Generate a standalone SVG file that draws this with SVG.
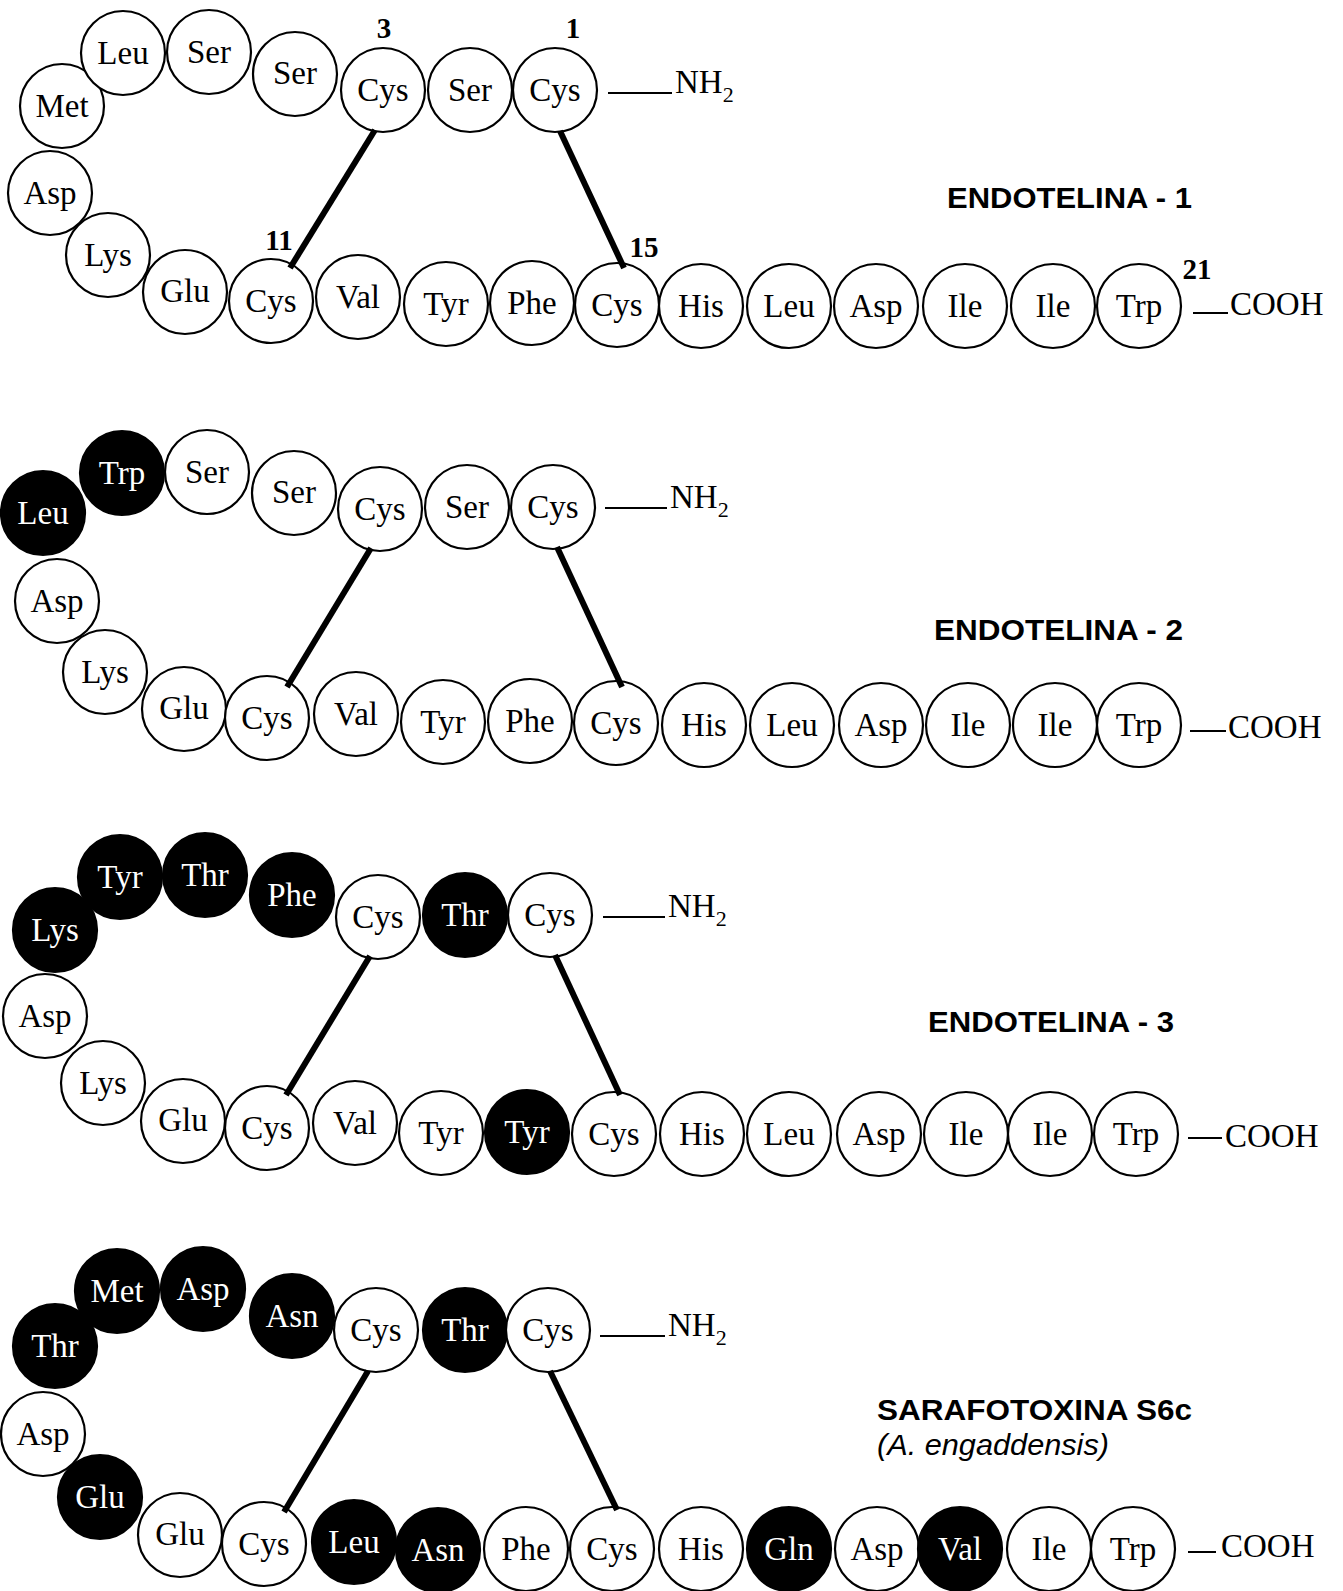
<svg xmlns="http://www.w3.org/2000/svg" width="1343" height="1591" viewBox="0 0 1343 1591">
<style>
.w circle{fill:#fff;stroke:#000;stroke-width:2.2}
.b circle{fill:#000;stroke:#000;stroke-width:2.2}
.w text,.b text{font-family:"Liberation Serif","Times New Roman",serif;font-size:33px;text-anchor:middle}
.w text{fill:#000}
.b text{fill:#fff}
.t{font-family:"Liberation Serif","Times New Roman",serif;font-size:33px;fill:#000}
.n{font-family:"Liberation Serif","Times New Roman",serif;font-size:29px;font-weight:bold;text-anchor:middle;fill:#000}
.h{font-family:"Liberation Sans",Arial,sans-serif;font-size:29px;font-weight:bold;fill:#000}
.hi{font-family:"Liberation Sans",Arial,sans-serif;font-size:30px;font-style:italic;fill:#000}
.ss{stroke:#000;stroke-width:6;stroke-linecap:butt}
.tl{stroke:#000;stroke-width:2}
</style>

<!-- ===== Panel 1: ENDOTELINA - 1 ===== -->
<g id="et1">
<g id="et1-met" class="w"><circle cx="62" cy="106" r="42"/><text x="62" y="117">Met</text></g>
<g id="et1-leu" class="w"><circle cx="123" cy="53" r="42"/><text x="123" y="64">Leu</text></g>
<g id="et1-ser1" class="w"><circle cx="209" cy="52" r="42"/><text x="209" y="63">Ser</text></g>
<g id="et1-ser2" class="w"><circle cx="295" cy="74" r="42"/><text x="295" y="84">Ser</text></g>
<g id="et1-cys3" class="w"><circle cx="383" cy="90" r="42"/><text x="383" y="101">Cys</text></g>
<g id="et1-ser3" class="w"><circle cx="470" cy="90" r="42"/><text x="470" y="101">Ser</text></g>
<g id="et1-cys1" class="w"><circle cx="555" cy="90" r="42"/><text x="555" y="101">Cys</text></g>
<g id="et1-asp" class="w"><circle cx="50" cy="193" r="42"/><text x="50" y="204">Asp</text></g>
<g id="et1-lys" class="w"><circle cx="108" cy="255" r="42"/><text x="108" y="266">Lys</text></g>
<g id="et1-glu" class="w"><circle cx="185" cy="292" r="42"/><text x="185" y="302">Glu</text></g>
<g id="et1-cys11" class="w"><circle cx="271" cy="301" r="42"/><text x="271" y="312">Cys</text></g>
<g id="et1-val" class="w"><circle cx="358" cy="297" r="42"/><text x="358" y="308">Val</text></g>
<g id="et1-tyr" class="w"><circle cx="446" cy="304" r="42"/><text x="446" y="315">Tyr</text></g>
<g id="et1-phe" class="w"><circle cx="532" cy="303" r="42"/><text x="532" y="314">Phe</text></g>
<g id="et1-cys15" class="w"><circle cx="617" cy="305" r="42"/><text x="617" y="316">Cys</text></g>
<g id="et1-his" class="w"><circle cx="701" cy="306" r="42"/><text x="701" y="317">His</text></g>
<g id="et1-leu2" class="w"><circle cx="789" cy="306" r="42"/><text x="789" y="317">Leu</text></g>
<g id="et1-asp2" class="w"><circle cx="876" cy="306" r="42"/><text x="876" y="317">Asp</text></g>
<g id="et1-ile1" class="w"><circle cx="965" cy="306" r="42"/><text x="965" y="317">Ile</text></g>
<g id="et1-ile2" class="w"><circle cx="1053" cy="306" r="42"/><text x="1053" y="317">Ile</text></g>
<g id="et1-trp" class="w"><circle cx="1139" cy="306" r="42"/><text x="1139" y="317">Trp</text></g>
<text class="n" x="384" y="38">3</text>
<text class="n" x="573" y="38">1</text>
<text class="n" x="279" y="250">11</text>
<text class="n" x="644" y="257">15</text>
<text class="n" x="1197" y="279">21</text>
<text class="t" x="675" y="93">NH<tspan dy="9" font-size="22">2</tspan></text>
<text class="t" x="1230" y="315">COOH</text>
<text class="h" x="947" y="208" textLength="245" lengthAdjust="spacingAndGlyphs">ENDOTELINA - 1</text>
</g>

<!-- ===== Panel 2: ENDOTELINA - 2 ===== -->
<g id="et2">
<g id="et2-leu" class="b"><circle cx="43" cy="513" r="42"/><text x="43" y="524">Leu</text></g>
<g id="et2-trp" class="b"><circle cx="122" cy="473" r="42"/><text x="122" y="484">Trp</text></g>
<g id="et2-ser1" class="w"><circle cx="207" cy="472" r="42"/><text x="207" y="483">Ser</text></g>
<g id="et2-ser2" class="w"><circle cx="294" cy="493" r="42"/><text x="294" y="503">Ser</text></g>
<g id="et2-cys3" class="w"><circle cx="380" cy="509" r="42"/><text x="380" y="520">Cys</text></g>
<g id="et2-ser3" class="w"><circle cx="467" cy="507" r="42"/><text x="467" y="518">Ser</text></g>
<g id="et2-cys1" class="w"><circle cx="553" cy="507" r="42"/><text x="553" y="518">Cys</text></g>
<g id="et2-asp" class="w"><circle cx="57" cy="601" r="42"/><text x="57" y="612">Asp</text></g>
<g id="et2-lys" class="w"><circle cx="105" cy="672" r="42"/><text x="105" y="683">Lys</text></g>
<g id="et2-glu" class="w"><circle cx="184" cy="709" r="42"/><text x="184" y="719">Glu</text></g>
<g id="et2-cys11" class="w"><circle cx="267" cy="718" r="42"/><text x="267" y="729">Cys</text></g>
<g id="et2-val" class="w"><circle cx="356" cy="714" r="42"/><text x="356" y="725">Val</text></g>
<g id="et2-tyr" class="w"><circle cx="443" cy="722" r="42"/><text x="443" y="733">Tyr</text></g>
<g id="et2-phe" class="w"><circle cx="530" cy="721" r="42"/><text x="530" y="732">Phe</text></g>
<g id="et2-cys15" class="w"><circle cx="616" cy="723" r="42"/><text x="616" y="734">Cys</text></g>
<g id="et2-his" class="w"><circle cx="704" cy="725" r="42"/><text x="704" y="736">His</text></g>
<g id="et2-leu2" class="w"><circle cx="792" cy="725" r="42"/><text x="792" y="736">Leu</text></g>
<g id="et2-asp2" class="w"><circle cx="881" cy="725" r="42"/><text x="881" y="736">Asp</text></g>
<g id="et2-ile1" class="w"><circle cx="968" cy="725" r="42"/><text x="968" y="736">Ile</text></g>
<g id="et2-ile2" class="w"><circle cx="1055" cy="725" r="42"/><text x="1055" y="736">Ile</text></g>
<g id="et2-trp2" class="w"><circle cx="1139" cy="725" r="42"/><text x="1139" y="736">Trp</text></g>
<text class="t" x="670" y="508">NH<tspan dy="9" font-size="22">2</tspan></text>
<text class="t" x="1228" y="738">COOH</text>
<text class="h" x="934" y="640" textLength="249" lengthAdjust="spacingAndGlyphs">ENDOTELINA - 2</text>
</g>

<!-- ===== Panel 3: ENDOTELINA - 3 ===== -->
<g id="et3">
<g id="et3-lys" class="b"><circle cx="55" cy="930" r="42"/><text x="55" y="941">Lys</text></g>
<g id="et3-tyr" class="b"><circle cx="120" cy="877" r="42"/><text x="120" y="888">Tyr</text></g>
<g id="et3-thr" class="b"><circle cx="205" cy="875" r="42"/><text x="205" y="886">Thr</text></g>
<g id="et3-phe" class="b"><circle cx="292" cy="895" r="42"/><text x="292" y="906">Phe</text></g>
<g id="et3-cys3" class="w"><circle cx="378" cy="917" r="42"/><text x="378" y="928">Cys</text></g>
<g id="et3-thr2" class="b"><circle cx="465" cy="915" r="42"/><text x="465" y="926">Thr</text></g>
<g id="et3-cys1" class="w"><circle cx="550" cy="915" r="42"/><text x="550" y="926">Cys</text></g>
<g id="et3-asp" class="w"><circle cx="45" cy="1016" r="42"/><text x="45" y="1027">Asp</text></g>
<g id="et3-lys2" class="w"><circle cx="103" cy="1083" r="42"/><text x="103" y="1094">Lys</text></g>
<g id="et3-glu" class="w"><circle cx="183" cy="1121" r="42"/><text x="183" y="1131">Glu</text></g>
<g id="et3-cys11" class="w"><circle cx="267" cy="1128" r="42"/><text x="267" y="1139">Cys</text></g>
<g id="et3-val" class="w"><circle cx="355" cy="1123" r="42"/><text x="355" y="1134">Val</text></g>
<g id="et3-tyr2" class="w"><circle cx="441" cy="1133" r="42"/><text x="441" y="1144">Tyr</text></g>
<g id="et3-tyr3" class="b"><circle cx="527" cy="1132" r="42"/><text x="527" y="1143">Tyr</text></g>
<g id="et3-cys15" class="w"><circle cx="614" cy="1134" r="42"/><text x="614" y="1145">Cys</text></g>
<g id="et3-his" class="w"><circle cx="702" cy="1134" r="42"/><text x="702" y="1145">His</text></g>
<g id="et3-leu" class="w"><circle cx="789" cy="1134" r="42"/><text x="789" y="1145">Leu</text></g>
<g id="et3-asp2" class="w"><circle cx="879" cy="1134" r="42"/><text x="879" y="1145">Asp</text></g>
<g id="et3-ile1" class="w"><circle cx="966" cy="1134" r="42"/><text x="966" y="1145">Ile</text></g>
<g id="et3-ile2" class="w"><circle cx="1050" cy="1134" r="42"/><text x="1050" y="1145">Ile</text></g>
<g id="et3-trp" class="w"><circle cx="1136" cy="1134" r="42"/><text x="1136" y="1145">Trp</text></g>
<text class="t" x="668" y="917">NH<tspan dy="9" font-size="22">2</tspan></text>
<text class="t" x="1225" y="1147">COOH</text>
<text class="h" x="928" y="1032" textLength="246" lengthAdjust="spacingAndGlyphs">ENDOTELINA - 3</text>
</g>

<!-- ===== Panel 4: SARAFOTOXINA S6c ===== -->
<g id="s6c">
<g id="s6c-thr" class="b"><circle cx="55" cy="1346" r="42"/><text x="55" y="1357">Thr</text></g>
<g id="s6c-met" class="b"><circle cx="117" cy="1291" r="42"/><text x="117" y="1302">Met</text></g>
<g id="s6c-asp" class="b"><circle cx="203" cy="1289" r="42"/><text x="203" y="1300">Asp</text></g>
<g id="s6c-asn" class="b"><circle cx="292" cy="1316" r="42"/><text x="292" y="1327">Asn</text></g>
<g id="s6c-cys3" class="w"><circle cx="376" cy="1330" r="42"/><text x="376" y="1341">Cys</text></g>
<g id="s6c-thr2" class="b"><circle cx="465" cy="1330" r="42"/><text x="465" y="1341">Thr</text></g>
<g id="s6c-cys1" class="w"><circle cx="548" cy="1330" r="42"/><text x="548" y="1341">Cys</text></g>
<g id="s6c-asp2" class="w"><circle cx="43" cy="1434" r="42"/><text x="43" y="1445">Asp</text></g>
<g id="s6c-glu" class="b"><circle cx="100" cy="1497" r="42"/><text x="100" y="1508">Glu</text></g>
<g id="s6c-glu2" class="w"><circle cx="180" cy="1535" r="42"/><text x="180" y="1545">Glu</text></g>
<g id="s6c-cys11" class="w"><circle cx="264" cy="1544" r="42"/><text x="264" y="1555">Cys</text></g>
<g id="s6c-leu" class="b"><circle cx="354" cy="1542" r="42"/><text x="354" y="1553">Leu</text></g>
<g id="s6c-asn2" class="b"><circle cx="438" cy="1550" r="42"/><text x="438" y="1561">Asn</text></g>
<g id="s6c-phe" class="w"><circle cx="526" cy="1549" r="42"/><text x="526" y="1560">Phe</text></g>
<g id="s6c-cys15" class="w"><circle cx="612" cy="1549" r="42"/><text x="612" y="1560">Cys</text></g>
<g id="s6c-his" class="w"><circle cx="701" cy="1549" r="42"/><text x="701" y="1560">His</text></g>
<g id="s6c-gln" class="b"><circle cx="789" cy="1549" r="42"/><text x="789" y="1560">Gln</text></g>
<g id="s6c-asp3" class="w"><circle cx="877" cy="1549" r="42"/><text x="877" y="1560">Asp</text></g>
<g id="s6c-val" class="b"><circle cx="960" cy="1549" r="42"/><text x="960" y="1560">Val</text></g>
<g id="s6c-ile" class="w"><circle cx="1049" cy="1549" r="42"/><text x="1049" y="1560">Ile</text></g>
<g id="s6c-trp" class="w"><circle cx="1133" cy="1549" r="42"/><text x="1133" y="1560">Trp</text></g>
<text class="t" x="668" y="1336">NH<tspan dy="9" font-size="22">2</tspan></text>
<text class="t" x="1221" y="1557">COOH</text>
<text class="h" x="877" y="1420" textLength="315" lengthAdjust="spacingAndGlyphs">SARAFOTOXINA S6c</text>
<text class="hi" x="877" y="1455" textLength="232" lengthAdjust="spacingAndGlyphs">(A. engaddensis)</text>
</g>

<!-- ===== Connectors: disulfide bonds and terminal bonds ===== -->
<g id="connectors">
<line class="ss" x1="375" y1="130" x2="290" y2="268"/>
<line class="ss" x1="560" y1="131" x2="624" y2="268"/>
<line class="tl" x1="608" y1="93" x2="672" y2="93"/>
<line class="tl" x1="1193" y1="313" x2="1228" y2="313"/>

<line class="ss" x1="371" y1="548" x2="287" y2="687"/>
<line class="ss" x1="557" y1="547" x2="622" y2="687"/>
<line class="tl" x1="605" y1="508" x2="667" y2="508"/>
<line class="tl" x1="1190" y1="731" x2="1226" y2="731"/>

<line class="ss" x1="370" y1="956" x2="286" y2="1095"/>
<line class="ss" x1="555" y1="955" x2="620" y2="1095"/>
<line class="tl" x1="603" y1="917" x2="665" y2="917"/>
<line class="tl" x1="1188" y1="1138" x2="1222" y2="1138"/>

<line class="ss" x1="368" y1="1371" x2="284" y2="1512"/>
<line class="ss" x1="550" y1="1371" x2="617" y2="1510"/>
<line class="tl" x1="600" y1="1336" x2="665" y2="1336"/>
<line class="tl" x1="1188" y1="1552" x2="1216" y2="1552"/>
</g>
</svg>
